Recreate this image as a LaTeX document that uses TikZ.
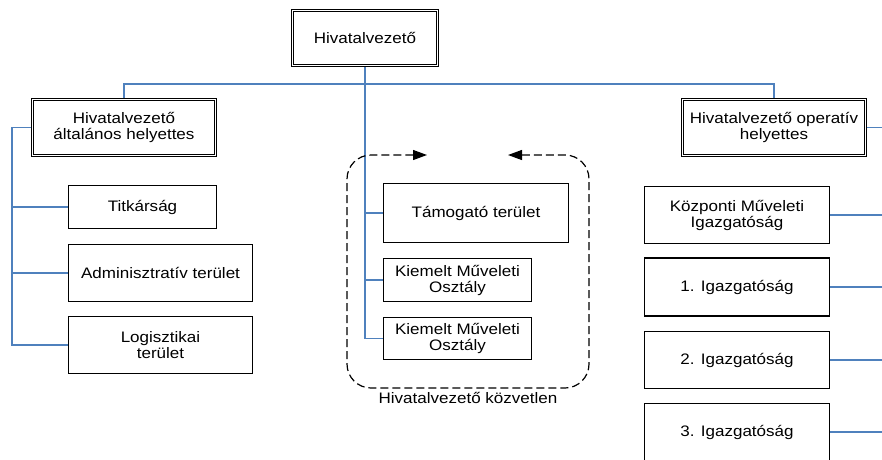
\documentclass[tikz,border=0pt]{standalone}
\usepackage{fontspec}
\setmainfont{Liberation Sans}[FakeStretch=1.12]
\usetikzlibrary{arrows.meta}
\definecolor{conn}{RGB}{79,129,189}
\begin{document}
\begin{tikzpicture}[x=1pt,y=-1pt,
  txt/.style={font=\fontsize{15.2}{16}\selectfont},
  box/.style={txt, draw=black, line width=1.1pt, fill=white, align=center, inner sep=0pt},
  dbox/.style={box, line width=0.8pt, double=white, double distance=1.6pt, outer sep=1.6pt},
  link/.style={draw=conn, line width=1.5pt},
  group/.style={draw=black, line width=1.2pt, dash pattern=on 8pt off 4pt, rounded corners=24pt},
  tips/.style={{Triangle[length=14pt,width=10pt]}-{Triangle[length=14pt,width=10pt]}}
]
\useasboundingbox (0,0) rectangle (882,459);

% boxes
\node[dbox, minimum width=144.8pt, minimum height=54.8pt] (top) at (365,38) {Hivatalvezető};
\node[dbox, minimum width=182.8pt, minimum height=55.8pt] (alt) at (124,127.5) {Hivatalvezető\\általános helyettes};
\node[dbox, minimum width=182.8pt, minimum height=55.8pt] (op) at (774,127.5) {Hivatalvezető operatív\\helyettes};

\node[box, minimum width=148pt, minimum height=43pt] (tit) at (142.5,207) {Titkárság};
\node[box, minimum width=184pt, minimum height=57pt] (adm) at (160.5,273) {Adminisztratív terület};
\node[box, minimum width=184pt, minimum height=57pt] (log) at (160.5,345) {Logisztikai\\terület};

\node[box, minimum width=185pt, minimum height=59pt] (tam) at (476,213) {Támogató terület};
\node[box, minimum width=148pt, minimum height=43pt] (k1) at (457.5,280) {Kiemelt Műveleti\\Osztály};
\node[box, minimum width=148pt, minimum height=42pt] (k2) at (457.5,338.5) {Kiemelt Műveleti\\Osztály};

\node[box, minimum width=185pt, minimum height=57pt] (kp) at (737,215) {Központi Műveleti\\Igazgatóság};
\node[box, minimum width=185pt, minimum height=58pt] (i1) at (737,287) {1. Igazgatóság};
\node[box, minimum width=185pt, minimum height=57pt] (i2) at (737,360) {2. Igazgatóság};
\node[box, minimum width=185pt, minimum height=57pt] (i3) at (737,432) {3. Igazgatóság};

\node[txt] (lbl) at (468,398) {Hivatalvezető közvetlen};

% connectors
\coordinate (bus) at (365,84);
\draw[link] (alt.north) |- (bus) -| (op.north);
\draw[link] (top.south) -- (top.south |- k2.west) -- (k2.west);
\draw[link] (top.south |- tam.west) -- (tam.west);
\draw[link] (top.south |- k1.west) -- (k1.west);

\coordinate (lt) at (12,127.5);
\draw[link] (alt.west) -- (lt) |- (log.west);
\draw[link] (lt |- tit.west) -- (tit.west);
\draw[link] (lt |- adm.west) -- (adm.west);

\coordinate (rt) at (890,127.5);
\draw[link] (op.east) -- (rt) |- (i3.east);
\draw[link] (rt |- kp.east) -- (kp.east);
\draw[link] (rt |- i1.east) -- (i1.east);
\draw[link] (rt |- i2.east) -- (i2.east);

% dashed group
\coordinate (ga) at (427,155);
\coordinate (gb) at (508,155);
\draw[group, tips] (ga) -- (347,155) -- (347,388) -- (589,388) -- (589,155) -- (gb);
\end{tikzpicture}
\end{document}
